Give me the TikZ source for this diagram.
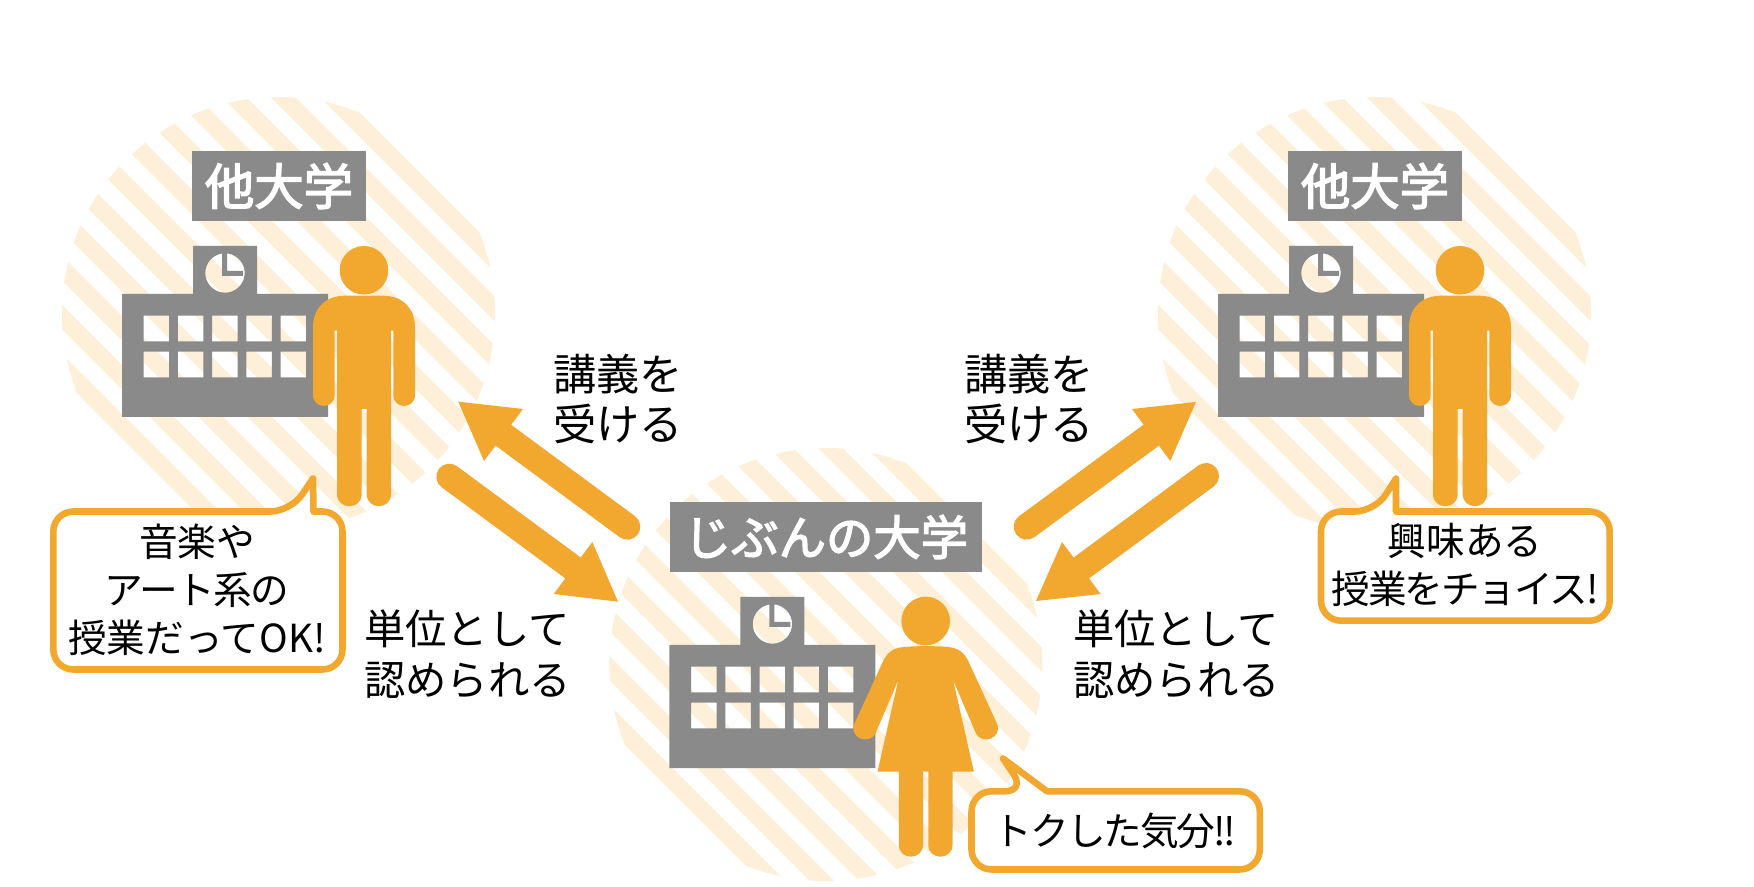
\documentclass[tikz,border=0pt]{standalone}
\usepackage{fontspec}
\setmainfont{Noto Sans CJK JP}
\newfontfamily\platefont[FakeBold=3]{Noto Sans CJK JP}
\definecolor{orng}{HTML}{F2A72E}
\definecolor{cream}{HTML}{FDEFD8}
\definecolor{grayb}{HTML}{8A8A8A}
\newcommand{\tightline}[2]{{\addfontfeatures{LetterSpace=#1}#2}}
\tikzset{
  shaft/.style={draw=orng,line width=19.5pt,line cap=round},
  headtip/.style={fill=orng},
  bubble/.style={draw=orng,fill=white,line width=4.9pt,line join=round},
  plate/.style={fill=grayb,text=white,inner sep=0pt,minimum height=52.5pt,font=\platefont\fontsize{37pt}{37pt}\selectfont},
  lbl/.style={inner sep=0pt,anchor=west,align=left,font=\fontsize{30.75pt}{37.7pt}\selectfont},
  btext/.style={inner sep=0pt,align=center,font=\fontsize{29pt}{36pt}\selectfont},
}
\newcommand{\stripeblob}[1]{%
  \begin{scope}[shift={(#1)}]
    \clip (278.5,313.5) circle[x radius=216.5,y radius=216.5];
    \foreach \k in {0,...,11}{
      \pgfmathsetmacro{\hi}{247-49*\k}
      \pgfmathsetmacro{\lo}{\hi-24.3}
      \fill[cream] (-100,{-100-\hi}) -- (700,{700-\hi}) -- (700,{700-\lo}) -- (-100,{-100-\lo}) -- cycle;
    }
  \end{scope}}
\newcommand{\buildingfig}[1]{%
  \begin{scope}[shift={(#1)}]
    \fill[grayb,even odd rule] (122,294) -- (193,294) -- (193,246) -- (257,246) -- (257,294) -- (328,294) -- (328,417) -- (122,417) -- cycle
      (225,273) circle[x radius=19.7,y radius=19.7]
      \foreach \c in {143.7,177.9,212.1,246.3,280.5}{
        (\c,315.7) rectangle ++(25.5,25.6)
        (\c,351.7) rectangle ++(25.5,25.6)
      };
    \fill[grayb] (222,253) -- (227,253) -- (227,271) -- (243,271) -- (243,276) -- (222,276) -- cycle;
  \end{scope}}
\newcommand{\manfig}[1]{%
  \begin{scope}[shift={(#1)}]
    \fill[orng] (364,270.3) circle[x radius=24.3,y radius=24.3];
    \fill[orng] (345,295.7) -- (383,295.7) .. controls (403,295.7) and (415,309) .. (415,327)
      -- (415,395) .. controls (415,409.5) and (393.3,409.5) .. (393.3,395)
      -- (393.3,330.7) -- (391,330.7) -- (391,494)
      .. controls (391,510.3) and (366.7,510.3) .. (366.7,494)
      -- (366.7,409) -- (361.7,409) -- (361.7,494)
      .. controls (361.7,510.3) and (337,510.3) .. (337,494)
      -- (337,330.7) -- (334.7,330.7) -- (334.7,395)
      .. controls (334.7,409.5) and (313,409.5) .. (313,395)
      -- (313,327) .. controls (313,309) and (325,295.7) .. (345,295.7) -- cycle;
  \end{scope}}
\begin{document}
\begin{tikzpicture}[x=0.75pt,y=-0.75pt]
\useasboundingbox (0,0) rectangle (1754,887);
% blobs
\stripeblob{0,0}
\stripeblob{1096,0}
\stripeblob{547.4,351}
% buildings
\buildingfig{0,0}
\buildingfig{1096,0}
\buildingfig{547.4,351}
% people
\manfig{0,0}
\manfig{1096,0}
\fill[orng] (925.7,621) circle[x radius=24.3,y radius=24.3];
\fill[orng] (903.6,647) .. controls (918,645.8) and (933,645.8) .. (947.8,647)
  .. controls (958,648) and (964,652) .. (968.6,661.7)
  -- (996.8,723.3) .. controls (1003.4,737.2) and (982.2,746.6) .. (975.6,732.7)
  -- (953.1,680) -- (973.9,771.7) -- (877.5,771.7) -- (898.3,680) -- (875.8,732.7)
  .. controls (869.2,746.6) and (848,737.2) .. (854.6,723.3)
  -- (882.8,661.7) .. controls (887.4,652) and (893.4,648) .. (903.6,647) -- cycle;
\fill[orng] (898.8,770) -- (898.8,844.6) .. controls (898.8,860.7) and (923,860.7) .. (923,844.6) -- (923,770) -- cycle;
\fill[orng] (928.3,770) -- (928.3,844.6) .. controls (928.3,860.7) and (952.6,860.7) .. (952.6,844.6) -- (952.6,770) -- cycle;
% plates
\node[plate,minimum width=130.5pt] (plateL) at (279,186) {他大学};
\node[plate,minimum width=130.5pt] (plateR) at (1375,186) {他大学};
\node[plate,minimum width=234pt] (plateC) at (826,537) {\fontsize{35.5pt}{35.5pt}\selectfont じぶんの大学};
% arrows
\coordinate (aTail) at (627.3,526.7); \coordinate (aNeck) at (503.8,435.5);
\coordinate (aTip) at (458.3,401.7); \coordinate (aB1) at (523,409); \coordinate (aB2) at (484,461);
\draw[shaft] (aTail) -- (aNeck);
\fill[headtip] (aTip) -- (aB1) -- (aB2) -- cycle;
\coordinate (bTail) at (449.3,476.7); \coordinate (bNeck) at (572.8,567.8);
\coordinate (bTip) at (618,601.7); \coordinate (bB1) at (592.3,542); \coordinate (bB2) at (553.7,594);
\draw[shaft] (bTail) -- (bNeck);
\fill[headtip] (bTip) -- (bB1) -- (bB2) -- cycle;
\coordinate (cTail) at (1026.7,526.7); \coordinate (cNeck) at (1150.8,435.5);
\coordinate (cTip) at (1196,402); \coordinate (cB1) at (1132,409); \coordinate (cB2) at (1170.3,461);
\draw[shaft] (cTail) -- (cNeck);
\fill[headtip] (cTip) -- (cB1) -- (cB2) -- cycle;
\coordinate (dTail) at (1206,476); \coordinate (dNeck) at (1081.6,567.8);
\coordinate (dTip) at (1036,601); \coordinate (dB1) at (1062,542); \coordinate (dB2) at (1100.7,594);
\draw[shaft] (dTail) -- (dNeck);
\fill[headtip] (dTip) -- (dB1) -- (dB2) -- cycle;
% labels
\node[lbl,font=\fontsize{32.4pt}{37.7pt}\selectfont] (lecL) at (553,399) {講義を\\受ける};
\node[lbl,font=\fontsize{32.4pt}{37.7pt}\selectfont] (lecR) at (964,399) {講義を\\受ける};
\node[lbl,font=\fontsize{31pt}{37.7pt}\selectfont] (credL) at (364,654) {単位として\\認められる};
\node[lbl,font=\fontsize{31pt}{37.7pt}\selectfont] (credR) at (1073,654) {単位として\\認められる};
% bubbles
\draw[bubble,rounded corners=15pt] (313.5,511.5) -- (342.5,511.5) -- (342.5,669.5) -- (53.3,669.5) -- (53.3,511.5) -- (290.5,511.5) [sharp corners] -- (313,478.5) -- cycle;
\node[btext] (bubL) at (197,589.5) {音楽や\\\tightline{-4}{アート系の}\\授業だってOK!};
\draw[bubble,rounded corners=15pt] (1396,511.5) -- (1609.7,511.5) -- (1609.7,620.7) -- (1321,620.7) -- (1321,511.5) -- (1375,511.5) [sharp corners] -- (1396,478.5) -- cycle;
\node[btext] (bubR) at (1465,565) {興味ある\\\tightline{-5.5}{授業をチョイス!}};
\draw[bubble,rounded corners=15pt] (1047,791.3) -- (1259.8,791.3) -- (1259.8,869.5) -- (971.5,869.5) -- (971.5,791.3) -- (1025,791.3) [sharp corners] -- (1003,758.5) -- cycle;
\node[btext] (bubC) at (1115,831) {\tightline{-5.5}{トクした気分!!}};
\end{tikzpicture}
\end{document}
